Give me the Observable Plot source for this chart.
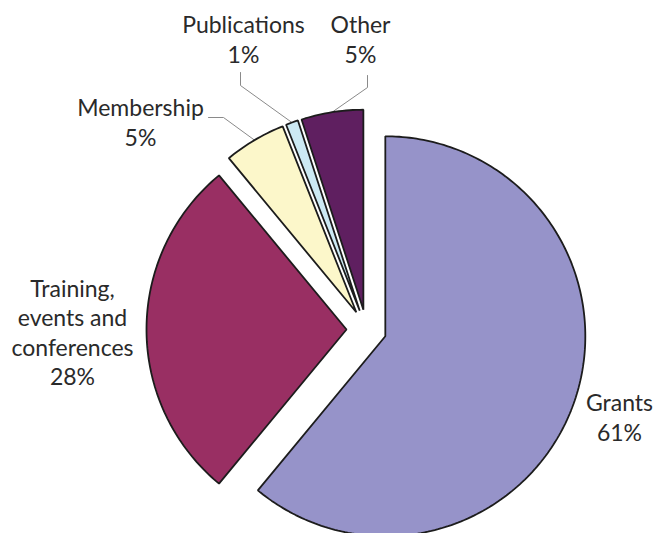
<!DOCTYPE html>
<html>
<head>
<meta charset="utf-8">
<script src="https://cdn.jsdelivr.net/npm/d3@7"></script>
<script src="https://cdn.jsdelivr.net/npm/@observablehq/plot@0.6"></script>
<style>
  html, body { margin: 0; padding: 0; background: #fff; }
  #chart svg { display: block; }
</style>
</head>
<body>
<div id="chart"></div>
<script>
// ---- data ----
const categories = ["Grants", "Training, events and conferences", "Membership", "Publications", "Other"];
const labelLines = ["Grants", "Training,\nevents and\nconferences", "Membership", "Publications", "Other"];
const values = [61, 28, 5, 1, 5];
const colors = ["#9693c9", "#992f63", "#fcf7ca", "#cce9f3", "#5f1f60"];

// ---- layout (data units: pie radius = 1, centre at 0,0) ----
const explode = 0.1;
const labelX = [1.265, -1.47, -1.13, -0.615, -0.03];
const labelY = [-0.435, -0.01, 1.04, 1.455, 1.455];
// leader elbows/ends for the small slices (null = no leader)
const leaderElbow = [null, null, [-0.715, 1.06], [-0.63, 1.22], [0.005, 1.21]];
const leaderEnd   = [null, null, [-0.79, 1.06], [-0.63, 1.285], [0.005, 1.27]];

// ---- build geometry from the data ----
const pie = d3.pie().sort(null).value(d => d)(values);
const slicePts = [];
const leaderPts = [];
pie.forEach((p, i) => {
  const mid = (p.startAngle + p.endAngle) / 2;
  const ox = explode * Math.sin(mid), oy = explode * Math.cos(mid);
  const cat = categories[i];
  slicePts.push({cat, x: ox, y: oy});
  const n = Math.max(2, Math.ceil((p.endAngle - p.startAngle) / (Math.PI / 180)));
  for (let k = 0; k <= n; k++) {
    const a = p.startAngle + (p.endAngle - p.startAngle) * k / n;
    slicePts.push({cat, x: ox + Math.sin(a), y: oy + Math.cos(a)});
  }
  if (leaderElbow[i]) {
    leaderPts.push({cat, x: ox + Math.sin(mid), y: oy + Math.cos(mid)});
    leaderPts.push({cat, x: leaderElbow[i][0], y: leaderElbow[i][1]});
    leaderPts.push({cat, x: leaderEnd[i][0], y: leaderEnd[i][1]});
  }
});
const labels = categories.map((c, i) => ({
  cat: c, x: labelX[i], y: labelY[i], text: `${labelLines[i]}\n${values[i]}%`
}));

const chart = Plot.plot({
  width: 657,
  height: 533,
  margin: 0,
  style: {background: "#fff", fontFamily: "Lato, 'Open Sans', sans-serif"},
  x: {domain: [-1.83, 1.455], axis: null},
  y: {domain: [-1.02, 1.645], axis: null},
  color: {domain: categories, range: colors},
  marks: [
    Plot.line(leaderPts, {x: "x", y: "y", z: "cat", stroke: "#8a8a8a", strokeWidth: 1}),
    Plot.line(slicePts, {x: "x", y: "y", z: "cat", fill: "cat", stroke: "#1c1c1c",
      strokeWidth: 1.8, curve: "linear-closed", strokeLinejoin: "miter"}),
    Plot.text(labels, {x: "x", y: "y", text: "text", fontSize: 23, lineHeight: 1.28,
      fill: "#2a2a2a", textAnchor: "middle"})
  ]
});
document.getElementById("chart").appendChild(chart);
</script>
</body>
</html>
